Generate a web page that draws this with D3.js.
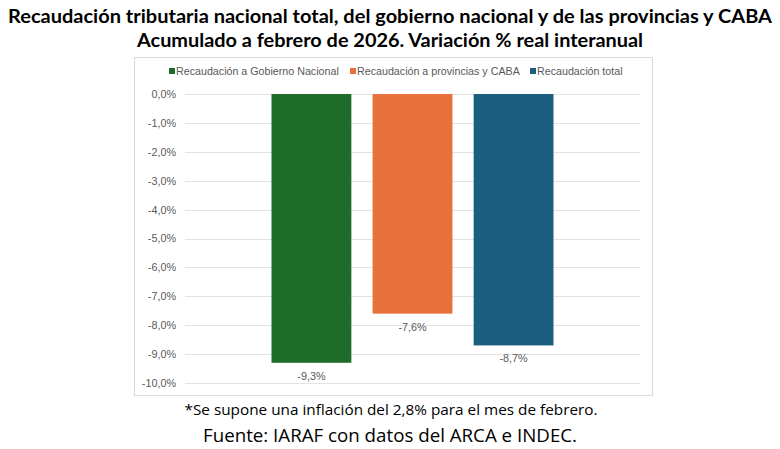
<!DOCTYPE html>
<html lang="es">
<head>
<meta charset="utf-8">
<style>
  body { margin: 0; background: #fff; }
  svg { display: block; }
  .tick text { font-family: "Liberation Sans", Arial, sans-serif; font-size: 10.8px; fill: #595959; }
</style>
<script src="https://d3js.org/d3.v7.min.js"></script>
</head>
<body>
<script>
var width = 780, height = 449;

// data
var series = ["Recaudación a Gobierno Nacional", "Recaudación a provincias y CABA", "Recaudación total"];
var values = [-9.3, -7.6, -8.7];
var colors = ["#1e6b2a", "#e8703a", "#1b5e80"];
var yTicks = [0, -1, -2, -3, -4, -5, -6, -7, -8, -9, -10];

var titleLines = [
  "Recaudación tributaria nacional total, del gobierno nacional y de las provincias y CABA",
  "Acumulado a febrero de 2026. Variación % real interanual"
];
var note = "*Se supone una inflación del 2,8% para el mes de febrero.";
var source = "Fuente: IARAF con datos del ARCA e INDEC.";

var fmt = function(v) { return d3.format(".1f")(v).replace("−", "-").replace(".", ",") + "%"; };

var svg = d3.select("body").append("svg")
  .attr("width", width)
  .attr("height", height);

// chart box
svg.append("rect")
  .attr("x", 134.5).attr("y", 57.5)
  .attr("width", 518).attr("height", 338)
  .attr("fill", "#fff")
  .attr("stroke", "#d9d9d9");

// titles
var titleW = [764, 506];
titleLines.forEach(function(t, i) {
  svg.append("text")
    .attr("x", width / 2)
    .attr("y", 23 + i * 24)
    .attr("text-anchor", "middle")
    .attr("font-family", "Lato, 'Open Sans', sans-serif")
    .attr("font-weight", "bold")
    .attr("font-size", 19)
    .attr("textLength", titleW[i])
    .attr("lengthAdjust", "spacingAndGlyphs")
    .attr("fill", "#000")
    .text(t);
});

var plotLeft = 185, plotRight = 640;
var yscale = d3.scaleLinear().domain([0, -10]).range([94, 383]);

var xscale = d3.scaleBand()
  .domain(series)
  .range([plotLeft + 86.5, plotRight - 86.5])
  .paddingInner(0.21)
  .paddingOuter(0);

// gridlines
svg.append("g")
  .selectAll("line")
  .data(yTicks)
  .enter().append("line")
  .attr("x1", plotLeft).attr("x2", plotRight)
  .attr("y1", function(d) { return Math.round(yscale(d)) + 0.5; })
  .attr("y2", function(d) { return Math.round(yscale(d)) + 0.5; })
  .attr("stroke", "#e3e3e3")
  .attr("stroke-width", 1.2);

// y axis (labels only)
var y_axis = d3.axisLeft(yscale)
  .tickValues(yTicks)
  .tickFormat(fmt)
  .tickSize(0)
  .tickPadding(0);

svg.append("g")
  .attr("transform", "translate(176,0)")
  .call(y_axis)
  .call(function(g) { g.select(".domain").remove(); });

// bars
svg.selectAll(".bar")
  .data(series)
  .enter().append("rect")
  .attr("class", "bar")
  .attr("x", function(d) { return xscale(d); })
  .attr("y", yscale(0))
  .attr("width", xscale.bandwidth())
  .attr("height", function(d, i) { return yscale(values[i]) - yscale(0); })
  .attr("fill", function(d, i) { return colors[i]; });

// value labels
svg.selectAll(".lbl")
  .data(series)
  .enter().append("text")
  .attr("class", "lbl")
  .attr("x", function(d) { return xscale(d) + xscale.bandwidth() / 2; })
  .attr("y", function(d, i) { return yscale(values[i]) + 17; })
  .attr("text-anchor", "middle")
  .attr("font-family", "'Liberation Sans', Arial, sans-serif")
  .attr("font-size", 10.8)
  .attr("fill", "#595959")
  .text(function(d, i) { return fmt(values[i]); });

// legend
var legendX = [169, 350, 530];
var legend = svg.selectAll(".leg")
  .data(series)
  .enter().append("g")
  .attr("class", "leg")
  .attr("transform", function(d, i) { return "translate(" + legendX[i] + ",71)"; });

legend.append("rect")
  .attr("x", 0).attr("y", -3)
  .attr("width", 6).attr("height", 6)
  .attr("fill", function(d, i) { return colors[i]; });

legend.append("text")
  .attr("x", 7)
  .attr("y", 3.8)
  .attr("font-family", "'Liberation Sans', Arial, sans-serif")
  .attr("font-size", 10.7)
  .attr("fill", "#595959")
  .text(function(d) { return d; });

// footnotes
svg.append("text")
  .attr("x", 391).attr("y", 415)
  .attr("text-anchor", "middle")
  .attr("font-family", "'Open Sans', sans-serif")
  .attr("font-size", 14.5)
  .attr("textLength", 413)
  .attr("lengthAdjust", "spacingAndGlyphs")
  .attr("fill", "#000")
  .text(note);

svg.append("text")
  .attr("x", 390).attr("y", 442)
  .attr("text-anchor", "middle")
  .attr("font-family", "'Open Sans', sans-serif")
  .attr("font-size", 18.5)
  .attr("textLength", 374)
  .attr("lengthAdjust", "spacingAndGlyphs")
  .attr("fill", "#000")
  .text(source);
</script>
</body>
</html>
